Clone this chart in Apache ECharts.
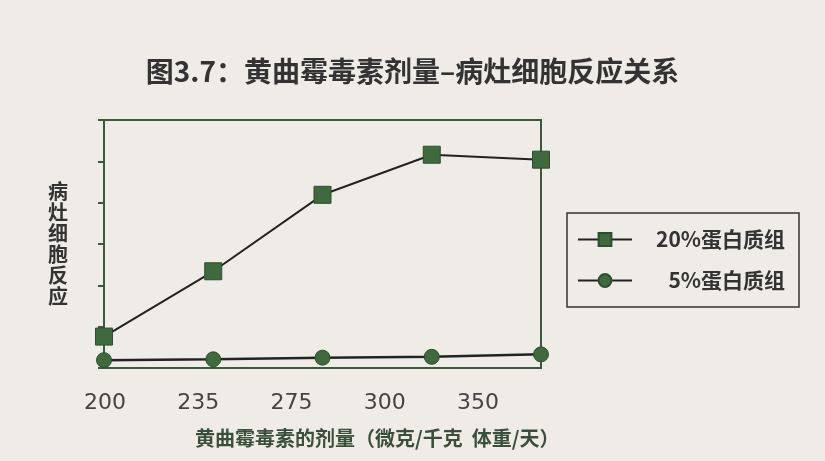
<!DOCTYPE html>
<html>
<head>
<meta charset="utf-8">
<script src="https://cdn.jsdelivr.net/npm/echarts@6/dist/echarts.min.js"></script>
<style>
html,body{margin:0;padding:0;background:#efece7;}
#c{width:825px;height:461px;}
</style>
</head>
<body>
<div id="c"></div>
<script>
const categories = ['200', '235', '275', '300', '350'];
const tickLabels = ['200', '235', '275', '300', '350'];
const seriesNames = ['20%蛋白质组', '5%蛋白质组'];
const protein20 = [0.76, 2.34, 4.19, 5.16, 5.04];
const protein5 = [0.19, 0.21, 0.25, 0.27, 0.33];
const titleText = '图3.7：黄曲霉毒素剂量–病灶细胞反应关系';
const xName = '黄曲霉毒素的剂量（微克/千克  体重/天）';
const yName = '病灶细胞反应';

const green = '#3e6a3e';
const frame = '#3a5a3a';
const chart = echarts.init(document.getElementById('c'));
chart.setOption({
  backgroundColor: '#efece7',
  animation: false,
  title: [
    { text: titleText, left: 'center', top: 52,
      textStyle: { fontSize: 28, fontWeight: 'bold', color: '#333', fontFamily: 'Noto Sans CJK SC' } },
    { text: xName, left: 190, top: 423,
      textStyle: { fontSize: 20, fontWeight: 'bold', color: '#3a4f3a', fontFamily: 'Noto Sans CJK SC' } }
  ],
  legend: {
    orient: 'vertical', left: 567, top: 213,
    padding: [16, 14, 16, 10], itemGap: 20,
    itemWidth: 54, itemHeight: 16,
    borderColor: '#333', borderWidth: 1.5,
    data: seriesNames,
    formatter: function (n) { return '{a|' + n + '}'; },
    textStyle: { color: '#333', fontSize: 21, fontFamily: 'Noto Sans CJK SC',
      rich: { a: { width: 148, align: 'right', fontSize: 21, fontWeight: 'bold', color: '#333', fontFamily: 'Noto Sans CJK SC' } } }
  },
  grid: [
    { left: 104, right: 284, top: 120, bottom: 93, show: true, borderColor: frame, borderWidth: 2, backgroundColor: 'transparent' },
    { left: 105, width: 373, top: 120, bottom: 93, show: false }
  ],
  xAxis: [
    { type: 'category', gridIndex: 0, data: categories, boundaryGap: false,
      axisLine: { lineStyle: { color: frame, width: 2 } }, axisTick: { show: false }, axisLabel: { show: false } },
    { type: 'category', gridIndex: 1, data: tickLabels, boundaryGap: false,
      axisLine: { show: false }, axisTick: { show: false },
      axisLabel: { margin: 24, fontSize: 22, color: '#444', fontFamily: 'DejaVu Sans' } }
  ],
  yAxis: [
    { type: 'value', gridIndex: 0, min: 0, max: 6, interval: 1,
      name: yName.split('').join('\n'), nameLocation: 'middle', nameGap: 36, nameRotate: 0,
      nameTextStyle: { fontSize: 20, fontWeight: 'bold', lineHeight: 21, color: '#333', fontFamily: 'Noto Sans CJK SC' },
      axisLine: { show: true, lineStyle: { color: frame, width: 2 } },
      axisTick: { show: true, length: 6, lineStyle: { color: frame, width: 2 } },
      axisLabel: { show: false }, splitLine: { show: false } },
    { type: 'value', gridIndex: 1, show: false }
  ],
  series: [
    { name: seriesNames[0], type: 'line', data: protein20, symbol: 'rect', symbolSize: 17,
      lineStyle: { color: '#222', width: 2 }, itemStyle: { color: green, borderColor: '#2d4f2d', borderWidth: 1 } },
    { name: seriesNames[1], type: 'line', data: protein5, symbol: 'circle', symbolSize: 15,
      lineStyle: { color: '#222', width: 2.5 }, itemStyle: { color: green, borderColor: '#2d4f2d', borderWidth: 1 } }
  ]
});
</script>
</body>
</html>
